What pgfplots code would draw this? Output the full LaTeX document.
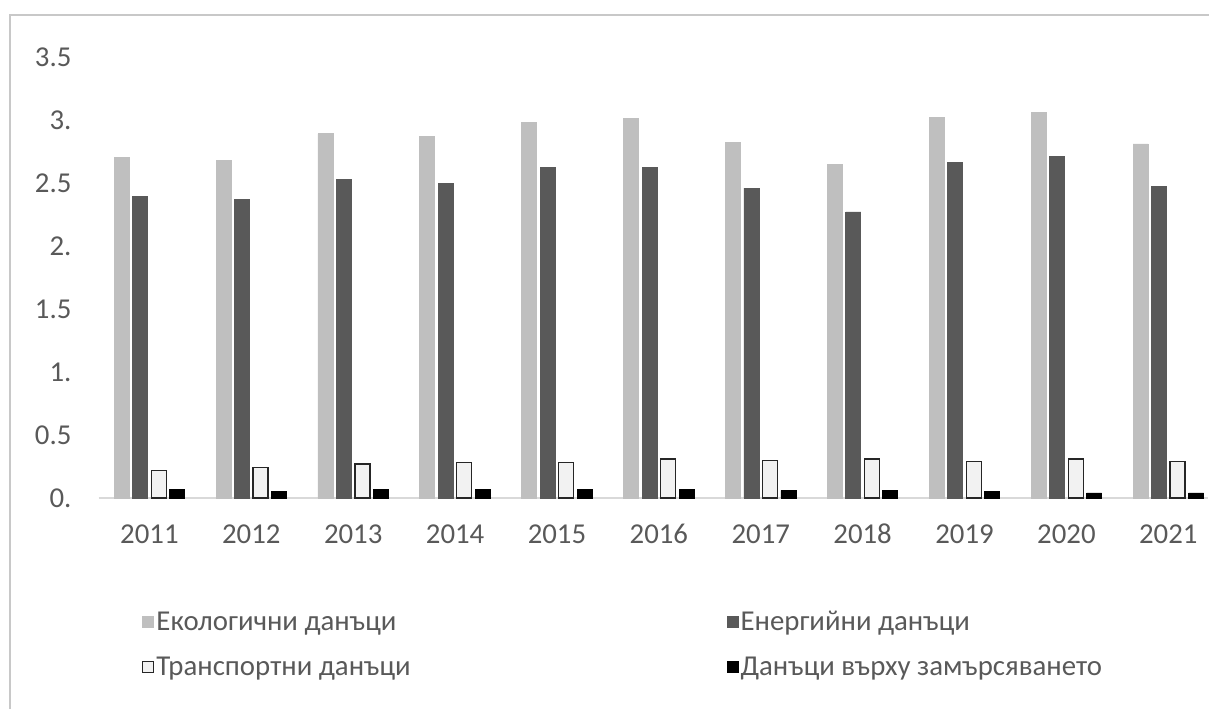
\documentclass[border=0pt]{standalone}
\usepackage{pgfplots}
\pgfplotsset{compat=1.18}
\usepackage{fontspec}
\setmainfont{Carlito}
\definecolor{cLight}{RGB}{191,191,191}
\definecolor{cDark}{RGB}{89,89,89}
\definecolor{cTrans}{RGB}{242,242,242}
\definecolor{cText}{RGB}{89,89,89}
\definecolor{cAxis}{RGB}{217,217,217}
\definecolor{cFrame}{RGB}{200,200,200}
\begin{document}
\begin{tikzpicture}[x=1pt,y=1pt]
\path[use as bounding box] (0,0) rectangle (604.5,354.5);
\draw[cFrame, line width=0.8pt] (5,0) -- (5,347) -- (604.5,347);
\begin{axis}[
  at={(49.25pt,105.5pt)}, anchor=south west,
  scale only axis, width=554.75pt, height=220.5pt,
  ybar=1.75pt, bar width=7.5pt,
  xmin=-0.5, xmax=10.39, ymin=0, ymax=3.5,
  xtick={0,...,10},
  xticklabels={2011,2012,2013,2014,2015,2016,2017,2018,2019,2020,2021},
  ytick={0,0.5,1,1.5,2,2.5,3,3.5},
  yticklabels={0.,0.5,1.,1.5,2.,2.5,3.,3.5},
  major tick length=0pt,
  axis x line*=bottom, axis y line*=left,
  x axis line style={-, draw=cAxis, line width=1pt},
  y axis line style={draw=none},
  tick label style={font=\fontsize{14.4}{16}\selectfont, text=cText},
  y tick label style={anchor=east, xshift=-10pt},
  x tick label style={anchor=north, yshift=-9pt, text height=10pt, text depth=0pt},
  clip=false,
  legend columns=2,
  legend style={draw=none, fill=none, at={(0.0337,-0.242)}, anchor=north west,
    font=\fontsize{14.4}{16}\selectfont, text=cText, row sep=9.5pt,
    /tikz/every even column/.append style={column sep=157pt},
    nodes={inner sep=1pt}},
  legend cell align=left,
  legend image code/.code={\draw[#1] (0pt,-2.75pt) rectangle (5.5pt,2.75pt);},
]
\addplot[fill=cLight, draw=cLight] coordinates {(0,2.70) (1,2.68) (2,2.89) (3,2.87) (4,2.98) (5,3.01) (6,2.82) (7,2.65) (8,3.02) (9,3.06) (10,2.81)};
\addplot[fill=cDark, draw=cDark] coordinates {(0,2.39) (1,2.37) (2,2.53) (3,2.50) (4,2.62) (5,2.62) (6,2.46) (7,2.27) (8,2.66) (9,2.71) (10,2.47)};
\addplot[fill=cTrans, draw=black!85, line width=0.6pt] coordinates {(0,0.22) (1,0.24) (2,0.27) (3,0.28) (4,0.28) (5,0.31) (6,0.30) (7,0.31) (8,0.29) (9,0.31) (10,0.29)};
\addplot[fill=black, draw=black] coordinates {(0,0.07) (1,0.05) (2,0.07) (3,0.07) (4,0.07) (5,0.07) (6,0.06) (7,0.06) (8,0.05) (9,0.04) (10,0.04)};
\legend{Екологични данъци, Енергийни данъци, Транспортни данъци, Данъци върху замърсяването}
\end{axis}
\end{tikzpicture}
\end{document}
